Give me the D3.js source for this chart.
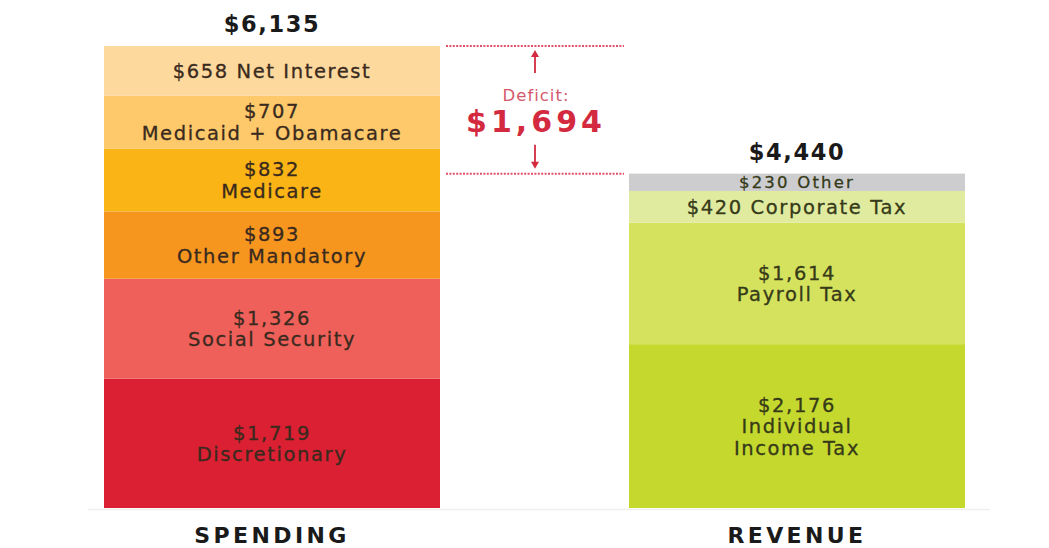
<!DOCTYPE html>
<html><head><meta charset="utf-8">
<script src="https://cdn.jsdelivr.net/npm/d3@7"></script>
<style>body{margin:0;background:#fff;} svg{display:block;}</style>
</head><body>
<svg id="c" width="1049" height="548"></svg>
<script>
const categories = ["SPENDING", "REVENUE"];
const totals = ["$6,135", "$4,440"];
// stacked bottom -> top
const spendingNames = [["Discretionary"], ["Social Security"], ["Other Mandatory"], ["Medicare"], ["Medicaid + Obamacare"], ["Net Interest"]];
const spendingValues = [1719, 1326, 893, 832, 707, 658];
const revenueNames = [["Individual", "Income Tax"], ["Payroll Tax"], ["Corporate Tax"], ["Other"]];
const revenueValues = [2176, 1614, 420, 230];
const deficitValue = 1694;

const spendingColors = ["#da2032", "#f0605a", "#f7961f", "#fbb416", "#fdc96a", "#fdd99d"];
const revenueColors = ["#c5d82e", "#d4e25e", "#e0eba0", "#cdcdd0"];
const spendingInline = [false, false, false, false, false, true];
const revenueInline = [false, false, true, true];

const svg = d3.select("#c");
const font = "'DejaVu Sans', sans-serif";
const total = d3.sum(spendingValues);
const y = d3.scaleLinear().domain([0, total]).range([508, 46]);
const x = d3.scaleBand().domain(categories).range([104, 965]).paddingInner(0.36).paddingOuter(0);
const fmt = d3.format("$,");

// faint baseline
svg.append("line").attr("x1", 88).attr("x2", 990).attr("y1", 509.5).attr("y2", 509.5)
  .attr("stroke", "#efefef").attr("stroke-width", 1.5);

function drawStack(cat, values, names, colors, inline, textColor) {
  let cum = 0;
  const g = svg.append("g");
  values.forEach((v, i) => {
    const y0 = y(cum), y1 = y(cum + v);
    cum += v;
    g.append("rect").attr("x", x(cat)).attr("width", x.bandwidth())
      .attr("y", y1).attr("height", y0 - y1).attr("fill", colors[i]);
    const lines = inline[i] ? [fmt(v) + " " + names[i].join(" ")] : [fmt(v)].concat(names[i]);
    const small = cat === "REVENUE" && i === values.length - 1;
    const fs = small ? 16.5 : 19.5;
    const lh = 21.5;
    const cy = (y0 + y1) / 2;
    const t = g.append("text").attr("text-anchor", "middle")
      .attr("font-family", font).attr("font-size", fs)
      .attr("letter-spacing", small ? 2.2 : 1.6).attr("fill", textColor)
      .attr("stroke", textColor).attr("stroke-width", 0.3);
    lines.forEach((ln, j) => {
      t.append("tspan").attr("x", x(cat) + x.bandwidth() / 2)
        .attr("y", cy + (j - (lines.length - 1) / 2) * lh + fs * 0.36)
        .text(ln);
    });
  });
  return cum;
}
const sTot = drawStack("SPENDING", spendingValues, spendingNames, spendingColors, spendingInline, "#3a2a1e");
const rTot = drawStack("REVENUE", revenueValues, revenueNames, revenueColors, revenueInline, "#363a18");

// totals and category labels
[sTot, rTot].forEach((tv, i) => {
  svg.append("text").attr("x", x(categories[i]) + x.bandwidth() / 2).attr("y", y(tv) - 14)
    .attr("text-anchor", "middle").attr("font-family", font).attr("font-weight", "bold")
    .attr("font-size", 22.5).attr("letter-spacing", 1.6).attr("fill", "#1a1a1a").text(totals[i]);
  svg.append("text").attr("x", x(categories[i]) + x.bandwidth() / 2).attr("y", 543)
    .attr("text-anchor", "middle").attr("font-family", font).attr("font-weight", "bold")
    .attr("font-size", 22).attr("letter-spacing", 3.4).attr("fill", "#1a1a1a").text(categories[i]);
});

// deficit annotation
const red = "#d42a3f";
const dx1 = x("SPENDING") + x.bandwidth() + 6, dx2 = x("REVENUE") - 5;
[sTot, rTot].forEach(v => {
  svg.append("line").attr("x1", dx1).attr("x2", dx2).attr("y1", y(v)).attr("y2", y(v))
    .attr("stroke", "#e0506a").attr("stroke-width", 2).attr("stroke-dasharray", "2,1.4");
});
const ax = (dx1 + dx2) / 2;
const topY = y(sTot), botY = y(rTot);
svg.append("line").attr("x1", ax).attr("x2", ax).attr("y1", topY + 27).attr("y2", topY + 8)
  .attr("stroke", red).attr("stroke-width", 1.8);
svg.append("path").attr("d", `M${ax - 4},${topY + 11} L${ax},${topY + 4} L${ax + 4},${topY + 11} Z`).attr("fill", red);
svg.append("line").attr("x1", ax).attr("x2", ax).attr("y1", botY - 29).attr("y2", botY - 9)
  .attr("stroke", red).attr("stroke-width", 1.8);
svg.append("path").attr("d", `M${ax - 4},${botY - 12} L${ax},${botY - 5} L${ax + 4},${botY - 12} Z`).attr("fill", red);
svg.append("text").attr("x", ax + 1).attr("y", 101).attr("text-anchor", "middle")
  .attr("font-family", font).attr("font-size", 16.5).attr("letter-spacing", 1)
  .attr("fill", "#d4596c").text("Deficit:");
svg.append("text").attr("x", ax + 1).attr("y", 132).attr("text-anchor", "middle")
  .attr("font-family", font).attr("font-weight", "bold").attr("font-size", 30)
  .attr("letter-spacing", 4).attr("fill", red)
  .text(fmt(deficitValue));
</script>
</body></html>
